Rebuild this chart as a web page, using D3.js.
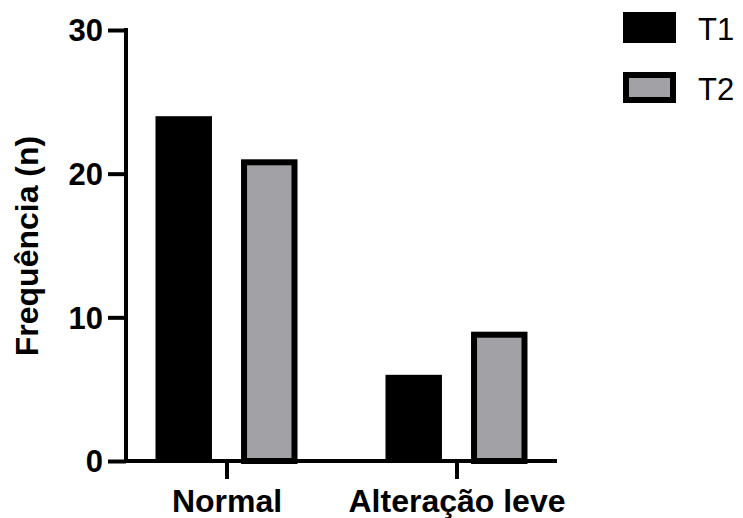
<!DOCTYPE html>
<html>
<head>
<meta charset="utf-8">
<script src="https://cdn.jsdelivr.net/npm/d3@7"></script>
<style>
  body { margin: 0; background: #fff; }
  text { font-family: "Liberation Sans", Arial, sans-serif; }
</style>
</head>
<body>
<div id="chart"></div>
<script>
const categories = ["Normal", "Alteração leve"];
const seriesNames = ["T1", "T2"];
const t1Values = [24, 6];
const t2Values = [21, 9];
const yTicks = [0, 10, 20, 30];

const width = 743,
  height = 518;
const x0 = 126,
  x1 = 557,
  yBottom = 461,
  yTop = 30;

const svg = d3
  .select("#chart")
  .append("svg")
  .attr("width", width)
  .attr("height", height);

const x = d3.scalePoint().domain(categories).range([x0, x1]).padding(0.437);
const xSub = d3.scaleBand().domain(seriesNames).range([-71, 71]).paddingInner(0.34);
const y = d3.scaleLinear().domain([0, 30]).range([yBottom, yTop]);

const fills = { T1: "#000000", T2: "#a2a1a6" };
const values = { T1: t1Values, T2: t2Values };

// bars
seriesNames.forEach(function (s) {
  const sw = s === "T2" ? 6 : 0;
  svg
    .selectAll(".bar-" + s)
    .data(categories)
    .enter()
    .append("rect")
    .attr("x", (d) => x(d) + xSub(s) + sw / 2)
    .attr("width", xSub.bandwidth() - sw)
    .attr("y", (d, i) => y(values[s][i]) + sw / 2)
    .attr("height", (d, i) => y(0) - y(values[s][i]) - sw / 2)
    .attr("fill", fills[s])
    .attr("stroke", sw ? "#000" : "none")
    .attr("stroke-width", sw);
});

// y axis
const yAxis = svg
  .append("g")
  .attr("transform", "translate(" + x0 + ",0)")
  .call(d3.axisLeft(y).tickValues(yTicks).tickSize(18).tickPadding(5).tickSizeOuter(0));
yAxis.select(".domain").attr("stroke-width", 4).attr("d", "M0," + (yTop - 2) + "V" + (yBottom + 2));
yAxis.selectAll(".tick line").attr("stroke-width", 4);
yAxis
  .selectAll(".tick text")
  .attr("font-size", 31)
  .attr("font-weight", "bold")
  .attr("fill", "#000")
  .attr("dy", "0.35em")
  .style("font-family", "'Liberation Sans', Arial, sans-serif");

// x axis
const xAxis = svg
  .append("g")
  .attr("transform", "translate(0," + yBottom + ")")
  .call(d3.axisBottom(x).tickSize(18).tickPadding(10).tickSizeOuter(0));
xAxis.select(".domain").attr("stroke-width", 4).attr("d", "M" + (x0 - 2) + ",0H" + x1);
xAxis.selectAll(".tick line").attr("stroke-width", 4);
xAxis
  .selectAll(".tick text")
  .attr("font-size", 32)
  .attr("font-weight", "bold")
  .attr("fill", "#000")
  .style("font-family", "'Liberation Sans', Arial, sans-serif");

// y label
svg
  .append("text")
  .attr("transform", "translate(38,246) rotate(-90)")
  .attr("text-anchor", "middle")
  .attr("font-size", 32)
  .attr("font-weight", "bold")
  .text("Frequência (n)");

// legend
const legend = svg
  .selectAll(".legend")
  .data(seriesNames)
  .enter()
  .append("g")
  .attr("transform", (d, i) => "translate(623," + (12 + i * 60) + ")");
legend
  .append("rect")
  .attr("x", (d) => (d === "T2" ? 3 : 0))
  .attr("y", (d) => (d === "T2" ? 3 : 0))
  .attr("width", (d) => (d === "T2" ? 47 : 53))
  .attr("height", (d) => (d === "T2" ? 25 : 31))
  .attr("fill", (d) => fills[d])
  .attr("stroke", (d) => (d === "T2" ? "#000" : "none"))
  .attr("stroke-width", 6);
legend
  .append("text")
  .attr("x", 75)
  .attr("y", 28)
  .attr("font-size", 31)
  .text((d) => d);
</script>
</body>
</html>
